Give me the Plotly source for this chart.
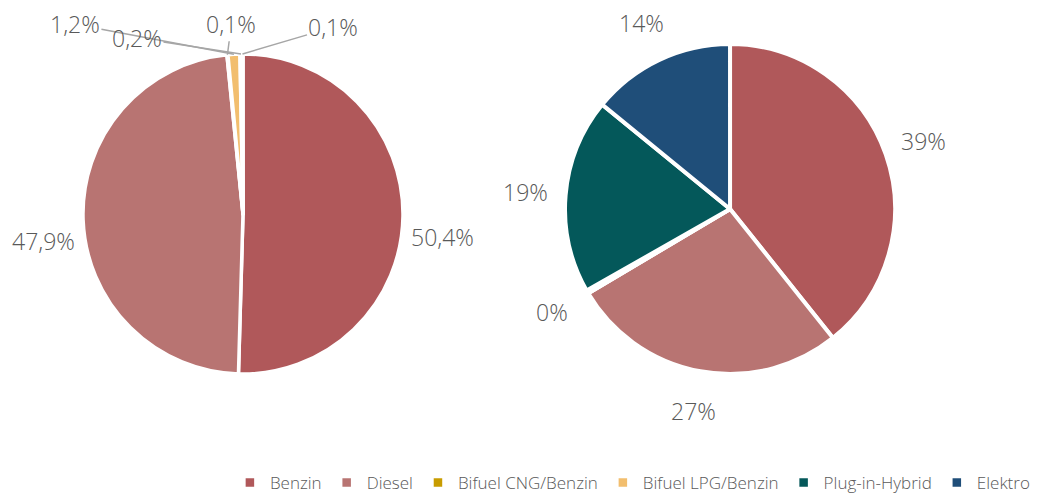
import math
import plotly.graph_objects as go

categories = ["Benzin", "Diesel", "Bifuel CNG/Benzin", "Bifuel LPG/Benzin", "Plug-in-Hybrid", "Elektro"]
colors = ["#B0585A", "#B87472", "#C89C00", "#F2BE6E", "#04585A", "#1F4E79"]

left_values = [50.4, 47.9, 0.1, 1.2, 0.2, 0.1]
left_labels = ["50,4%", "47,9%", "0,1%", "1,2%", "0,2%", "0,1%"]

right_values = [39, 27, 0.0, 0.3, 19, 14]
right_labels = ["39%", "27%", "", "0%", "19%", "14%"]

# layout / style constants
W, H = 1050, 493
font_family = "Open Sans, Noto Sans, sans-serif"
grey = "#595959"
line_grey = "#A6A6A6"
left_domain = dict(x=[0.0714, 0.3762], y=[0.2576, 0.9067])
right_domain = dict(x=[0.5305, 0.8448], y=[0.2576, 0.9270])
label_factor = 1.245
# leader-line label offsets (pixels) for the tiny slices of the left pie
small_offsets = {2: (4, -31), 3: (-159, -30), 4: (-104, -16), 5: (91, -27)}

label_font = dict(size=23, color=grey, family=font_family, weight=300)

fig = go.Figure()
fig.add_trace(go.Pie(
    labels=categories, values=left_values, textinfo="none", sort=False,
    direction="clockwise", rotation=0,
    marker=dict(colors=colors, line=dict(color="white", width=3.5)),
    domain=left_domain, hoverinfo="label+percent",
))
fig.add_trace(go.Pie(
    labels=categories, values=right_values, textinfo="none", sort=False,
    direction="clockwise", rotation=0,
    marker=dict(colors=colors, line=dict(color="white", width=4)),
    domain=right_domain, hoverinfo="label+percent",
))


def pie_geometry(domain):
    x0, x1 = domain["x"]
    y0, y1 = domain["y"]
    cx = (x0 + x1) / 2 * W
    cy = (y0 + y1) / 2 * H
    r = min((x1 - x0) * W, (y1 - y0) * H) / 2
    return cx, cy, r


def mid_angles(values):
    total = sum(values)
    out, cum = [], 0.0
    for v in values:
        out.append(2 * math.pi * (cum + v / 2) / total)
        cum += v
    return out


annotations = []

# left pie
cx, cy, r = pie_geometry(left_domain)
for i, (ang, txt) in enumerate(zip(mid_angles(left_values), left_labels)):
    if i in small_offsets:
        tx = cx + r * math.sin(ang)
        ty = cy + r * math.cos(ang)
        ax, ay = small_offsets[i]
        annotations.append(dict(
            x=tx / W, y=ty / H, xref="paper", yref="paper", text=txt,
            showarrow=True, arrowhead=0, arrowwidth=1.5, arrowcolor=line_grey,
            ax=ax, ay=ay, standoff=0, font=label_font,
        ))
    else:
        lx = cx + r * label_factor * math.sin(ang)
        ly = cy + r * label_factor * math.cos(ang)
        annotations.append(dict(
            x=lx / W, y=ly / H, xref="paper", yref="paper", text=txt,
            showarrow=False, xanchor="center", yanchor="middle", yshift=-20,
            font=label_font,
        ))

# right pie
cx, cy, r = pie_geometry(right_domain)
for ang, txt in zip(mid_angles(right_values), right_labels):
    if not txt:
        continue
    lx = cx + r * label_factor * math.sin(ang)
    ly = cy + r * label_factor * math.cos(ang)
    annotations.append(dict(
        x=lx / W, y=ly / H, xref="paper", yref="paper", text=txt,
        showarrow=False, xanchor="center", yanchor="middle", font=label_font,
    ))

fig.update_layout(
    width=W, height=H,
    margin=dict(l=0, r=0, t=0, b=0, autoexpand=False),
    paper_bgcolor="white", plot_bgcolor="white",
    font=dict(family=font_family, color=grey),
    annotations=annotations,
    legend=dict(orientation="h", x=0.978, xanchor="right", y=0.0365, yanchor="middle",
                font=dict(size=17, color=grey, family=font_family, weight=300),
                traceorder="normal"),
)

fig.write_html("out.html")
